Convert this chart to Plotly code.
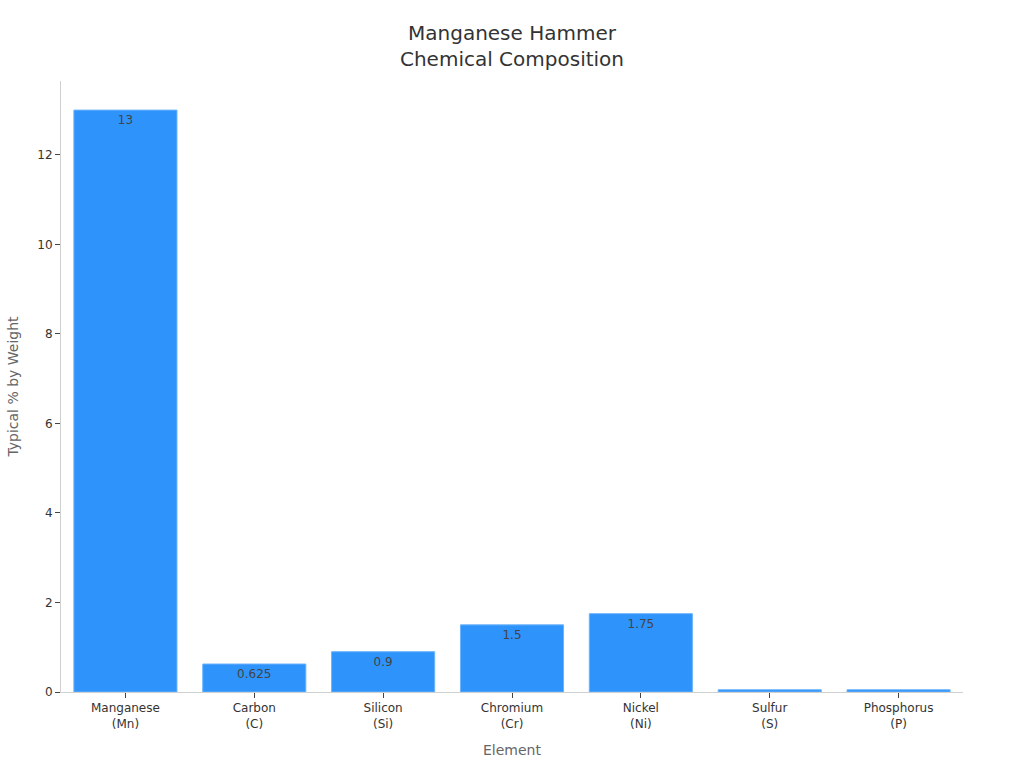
import plotly.graph_objects as go

elements = ["Manganese<br>(Mn)", "Carbon<br>(C)", "Silicon<br>(Si)", "Chromium<br>(Cr)",
            "Nickel<br>(Ni)", "Sulfur<br>(S)", "Phosphorus<br>(P)"]
values = [13, 0.625, 0.9, 1.5, 1.75, 0.05, 0.05]

fig = go.Figure(go.Bar(
    x=elements, y=values,
    text=[str(v) for v in values],
    textposition="inside", insidetextanchor="end",
    textfont=dict(size=12, color="#444444"),
    marker=dict(color="#2E93FA", line=dict(color="#6BB3FB", width=1)),
))

fig.update_layout(
    width=1024, height=768,
    margin=dict(l=61, r=61, t=81, b=76),
    paper_bgcolor="white", plot_bgcolor="white",
    font=dict(family="DejaVu Sans", size=12, color="#444444"),
    title=dict(text="Manganese Hammer<br>Chemical Composition", x=0.5, xanchor="center",
               y=1 - 40 / 768, yanchor="middle", font=dict(size=20, color="#333333")),
    bargap=0.2,
    uniformtext=dict(mode="hide", minsize=11),
    showlegend=False,
)
fig.update_xaxes(title=dict(text="Element", font=dict(size=14, color="#666666")),
                 showline=True, linecolor="#D0D0D0", linewidth=1,
                 ticks="outside", ticklen=5, tickcolor="#444444",
                 tickfont=dict(size=12, color="#333333"))
fig.update_yaxes(title=dict(text="Typical % by Weight", font=dict(size=14, color="#666666")),
                 range=[0, 13.65], showgrid=False, zeroline=False,
                 showline=True, linecolor="#D0D0D0", linewidth=1,
                 ticks="outside", ticklen=5, tickcolor="#444444", dtick=2,
                 tickfont=dict(size=12, color="#333333"))

fig.write_html("out.html")
